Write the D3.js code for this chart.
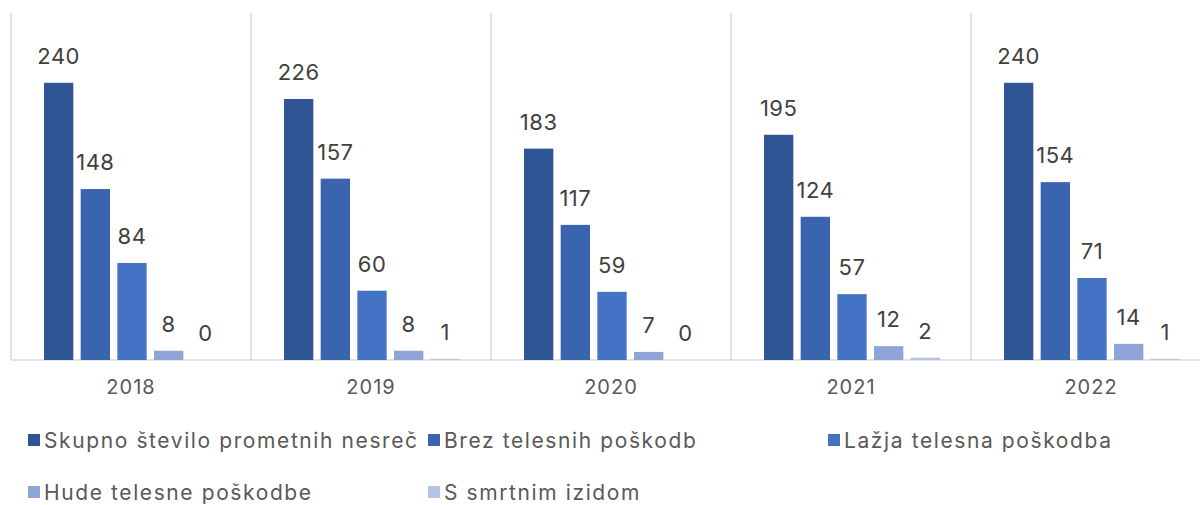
<!DOCTYPE html>
<html><head><meta charset="utf-8">
<script src="https://cdn.jsdelivr.net/npm/d3@7"></script>
<style>body{margin:0;background:#fff}svg{display:block}text{font-family:Inter,"Open Sans",sans-serif}</style>
</head><body>
<script>
const years = ["2018","2019","2020","2021","2022"];
const seriesNames = ["Skupno število prometnih nesreč","Brez telesnih poškodb","Lažja telesna poškodba","Hude telesne poškodbe","S smrtnim izidom"];
const skupno = [240,226,183,195,240];
const brez = [148,157,117,124,154];
const lazja = [84,60,59,57,71];
const hude = [8,8,7,12,14];
const smrt = [0,1,0,2,1];
const colors = ["#2F5597","#3A64AD","#4472C4","#8FA5D8","#B4C3E6"];

const series = [skupno,brez,lazja,hude,smrt];
const W=1200,H=505;
const svg=d3.select("body").append("svg").attr("width",W).attr("height",H);
const x0=d3.scaleBand().domain(years).range([11,1211]);
const x1=d3.scaleBand().domain(d3.range(5)).range([33,209]).paddingInner(0.2);
const y=d3.scaleLinear().domain([0,300]).range([360,13.5]);

// separators
svg.selectAll("line.sep").data(years).join("line").attr("class","sep")
  .attr("x1",d=>x0(d)).attr("x2",d=>x0(d)).attr("y1",13).attr("y2",360)
  .attr("stroke","#d9d9d9").attr("stroke-width",1.5);
svg.append("line").attr("x1",11).attr("x2",1200).attr("y1",360).attr("y2",360)
  .attr("stroke","#d9d9d9").attr("stroke-width",1.5);

const g=svg.selectAll("g.yr").data(years).join("g").attr("transform",d=>`translate(${x0(d)},0)`);
g.each(function(yr,i){
  const gg=d3.select(this);
  series.forEach((s,k)=>{
    const v=s[i];
    if(v>0) gg.append("rect").attr("x",x1(k)).attr("width",x1.bandwidth())
      .attr("y",y(v)).attr("height",y(0)-y(v)).attr("fill",colors[k]);
    gg.append("text").attr("x",x1(k)+x1.bandwidth()/2).attr("y",y(v)-19)
      .attr("text-anchor","middle").attr("font-size",22).attr("letter-spacing",0.5).attr("fill","#404040").text(v);
  });
});
// x axis labels
svg.selectAll("text.xl").data(years).join("text").attr("class","xl")
  .attr("x",d=>x0(d)+x0.bandwidth()/2).attr("y",394).attr("text-anchor","middle")
  .attr("font-size",20).attr("letter-spacing",1).attr("fill","#595959").text(d=>d);

// legend
const legPos=[[28,440],[428,440],[828,440],[28,492],[428,492]];
const lg=svg.selectAll("g.lg").data(seriesNames).join("g").attr("class","lg")
  .attr("transform",(d,i)=>`translate(${legPos[i][0]},${legPos[i][1]})`);
lg.append("rect").attr("x",0).attr("y",-6).attr("width",12).attr("height",12).attr("fill",(d,i)=>colors[i]);
lg.append("text").attr("x",16).attr("y",7.5).attr("font-size",21).attr("letter-spacing",1.6).attr("fill","#595959").text(d=>d);
</script>
</body></html>
